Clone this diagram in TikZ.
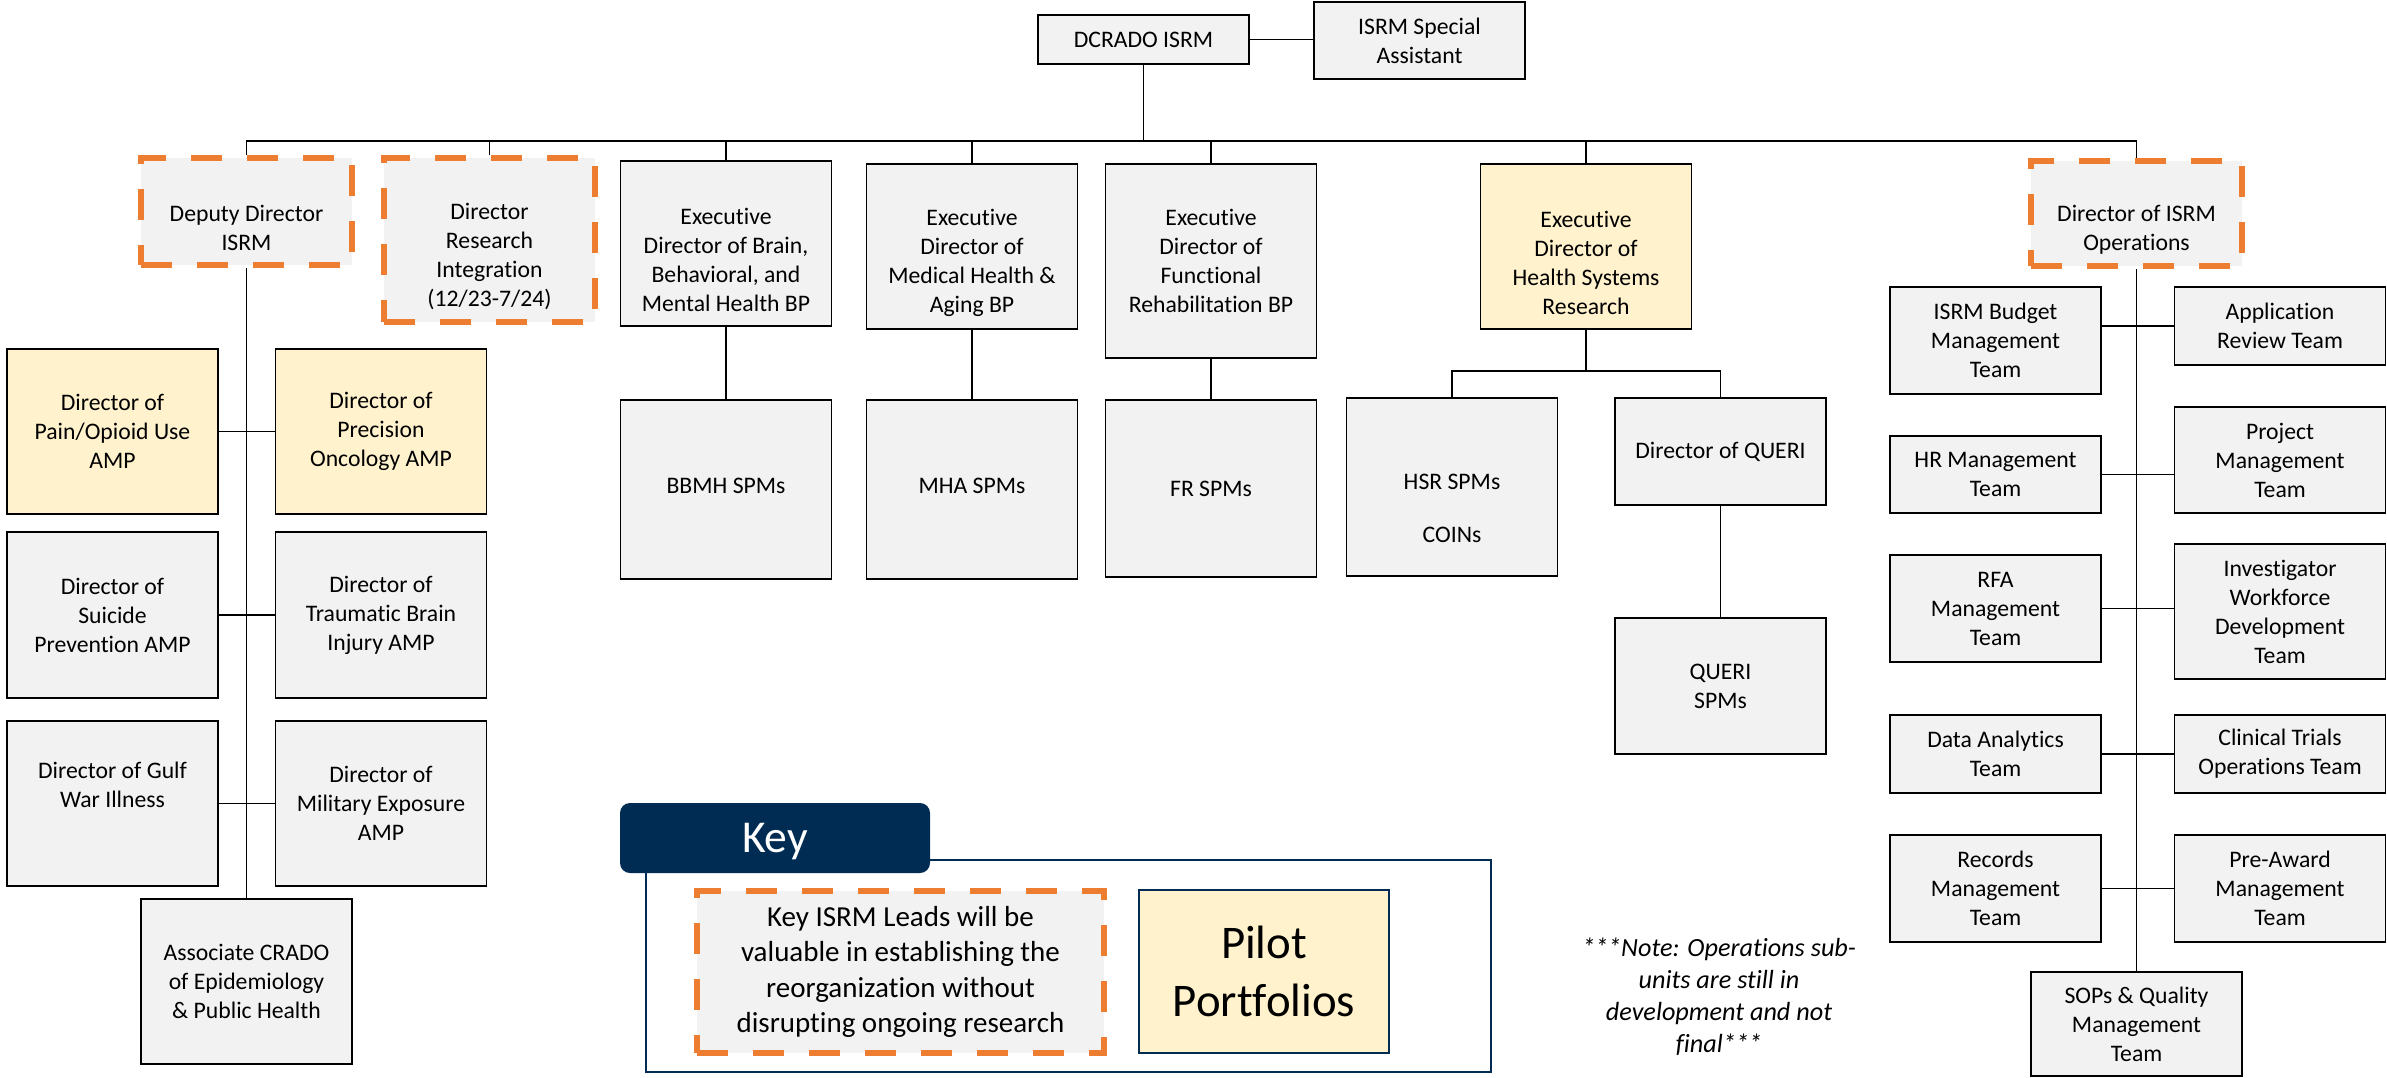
\documentclass[tikz,border=0pt]{standalone}
\usepackage{fontspec}
\setmainfont{Carlito}[Ligatures=CommonOff]
\usepackage{xcolor}
\definecolor{boxgray}{HTML}{F2F2F2}
\definecolor{pilotyellow}{HTML}{FFF2CC}
\definecolor{leadorange}{HTML}{ED7D31}
\definecolor{keynavy}{RGB}{0,44,84}

\begin{document}
\begin{tikzpicture}[-, x=1pt, y=-1pt,
main node/.style={draw, fill=boxgray, line width=1.8pt, align=center, minimum width=211pt, inner sep=2pt, font=\fontsize{23.7pt}{29pt}\selectfont},
pilot node/.style={main node, fill=pilotyellow},
lead node/.style={main node, draw=leadorange, line width=6pt, dash pattern=on 31pt off 25pt},
every edge/.append style={line width=1.2pt}]
\useasboundingbox (0,0) rectangle (2387,1078);
% top
\node[main node, minimum height=49pt] (dcrado) at (1143.5,39.5) {DCRADO ISRM};
\node[main node, minimum height=77pt] (asst) at (1419.5,40.5) {ISRM Special\\Assistant};
\coordinate (bus) at (1143.5,141);
% first row
\node[lead node, minimum height=107pt] (deputy) at (246.5,211.5) {\strut\\Deputy Director\\ISRM};
\node[lead node, minimum height=164pt] (dri) at (489.5,240) {\strut\\Director\\Research\\Integration\\(12/23-7/24)};
\node[main node, minimum height=165pt] (bbmhx) at (726,243.5) {\strut\\Executive\\Director of Brain,\\Behavioral, and\\Mental Health BP};
\node[main node, minimum height=165pt] (mhax) at (972,246.5) {\strut\\Executive\\Director of\\Medical Health \&\\Aging BP};
\node[main node, minimum height=194pt] (frx) at (1211,261) {Executive\\Director of\\Functional\\Rehabilitation BP};
\node[pilot node, minimum height=165pt] (hsrx) at (1586,246.5) {\strut\\Executive\\Director of\\Health Systems\\Research};
\node[lead node, minimum height=105pt] (ops) at (2136.5,213.5) {\strut\\Director of ISRM\\Operations};
% portfolios
\node[main node, minimum height=179pt] (bbmh) at (726,489.5) {\raisebox{8pt}{BBMH SPMs}};
\node[main node, minimum height=179pt] (mha) at (972,489.5) {\raisebox{8pt}{MHA SPMs}};
\node[main node, minimum height=177pt] (fr) at (1211,488.5) {FR SPMs};
\node[main node, minimum height=178pt] (hsr) at (1452,487) {\strut\\[8pt]HSR SPMs\\[24pt]COINs};
\coordinate (hbus) at (1586,371);
\node[main node, minimum height=107pt] (queri) at (1720.5,451.5) {Director of QUERI};
\node[main node, minimum height=136pt] (querispm) at (1720.5,686) {QUERI\\SPMs};
% deputy director
\node[pilot node, minimum height=165pt] (pain) at (112.5,431.5) {Director of\\Pain/Opioid Use\\AMP};
\node[pilot node, minimum height=165pt] (prec) at (381,431.5) {Director of\\Precision\\Oncology AMP};
\node[main node, minimum height=166pt] (suic) at (112.5,615) {Director of\\Suicide\\Prevention AMP};
\node[main node, minimum height=166pt] (tbi) at (381,615) {Director of\\Traumatic Brain\\Injury AMP};
\node[main node, minimum height=165pt] (gulf) at (112.5,803.5) {Director of Gulf\\War Illness\\\strut};
\node[main node, minimum height=165pt] (milx) at (381,803.5) {Director of\\Military Exposure\\AMP};
\node[main node, minimum height=165pt] (epi) at (246.5,981.5) {Associate CRADO\\of Epidemiology\\\& Public Health};
% operations
\node[main node, minimum height=107pt] (budget) at (1995.5,340.5) {ISRM Budget\\Management\\Team};
\node[main node, minimum height=78pt] (appr) at (2280,326) {Application\\Review Team};
\node[main node, minimum height=77pt] (hrm) at (1995.5,474.5) {HR Management\\Team};
\node[main node, minimum height=106pt] (proj) at (2280,460) {Project\\Management\\Team};
\node[main node, minimum height=107pt] (rfa) at (1995.5,608.5) {RFA\\Management\\Team};
\node[main node, minimum height=135pt] (inv) at (2280,611.5) {Investigator\\Workforce\\Development\\Team};
\node[main node, minimum height=78pt] (data) at (1995.5,754) {Data Analytics\\Team};
\node[main node, minimum height=78pt] (clin) at (2280,754) {Clinical Trials\\Operations Team};
\node[main node, minimum height=107pt] (rec) at (1995.5,888.5) {Records\\Management\\Team};
\node[main node, minimum height=107pt] (pre) at (2280,888.5) {Pre-Award\\Management\\Team};
\node[main node, minimum height=104pt] (sops) at (2136.5,1024) {SOPs \& Quality\\Management\\Team};
% key
\draw[keynavy, line width=2pt] (646,860) rectangle (1491,1072);
\node[fill=keynavy, rounded corners=10pt, minimum width=310pt, minimum height=70pt, text=white, text depth=0pt, font=\fontsize{45.6pt}{55pt}\selectfont] (keytab) at (775,838) {Key};
\node[lead node, minimum width=407pt, minimum height=162pt, font=\fontsize{29pt}{35.5pt}\selectfont] (leadkey) at (900.5,972) {Key ISRM Leads will be\\valuable in establishing the\\reorganization without\\disrupting ongoing research};
\node[pilot node, draw=keynavy, line width=2.5pt, minimum width=250pt, minimum height=163pt, font=\fontsize{46.8pt}{58pt}\selectfont] (pilotkey) at (1264,971.5) {Pilot\\Portfolios};
\node[align=center, font=\itshape\fontsize{26.2pt}{32pt}\selectfont] (note) at (1719,997) {***Note: Operations sub-\\units are still in\\development and not\\final***};
\path
(dcrado) edge (bus)
(dcrado.east) edge (dcrado.east -| asst.west)
(deputy.north) edge[to path={|- (\tikztotarget)}] (bus)
(ops.north) edge[to path={|- (\tikztotarget)}] (bus)
(dri.north) edge (dri.north |- bus)
(bbmhx.north) edge (bbmhx.north |- bus)
(mhax.north) edge (mhax.north |- bus)
(frx.north) edge (frx.north |- bus)
(hsrx.north) edge (hsrx.north |- bus)
(bbmhx) edge (bbmh)
(mhax) edge (mha)
(frx) edge (fr)
(hsrx.south) edge (hbus)
(hsr.north) edge[to path={|- (hbus) -| (\tikztotarget)}] (queri.north)
(queri) edge (querispm)
(deputy) edge (epi)
(pain) edge (prec)
(suic) edge (tbi)
(gulf) edge (milx)
(ops) edge (sops)
(appr.west) edge (appr.west -| budget.east)
(hrm.east) edge (hrm.east -| proj.west)
(rfa.east) edge (rfa.east -| inv.west)
(data.east) edge (data.east -| clin.west)
(rec.east) edge (rec.east -| pre.west);
\end{tikzpicture}
\end{document}
